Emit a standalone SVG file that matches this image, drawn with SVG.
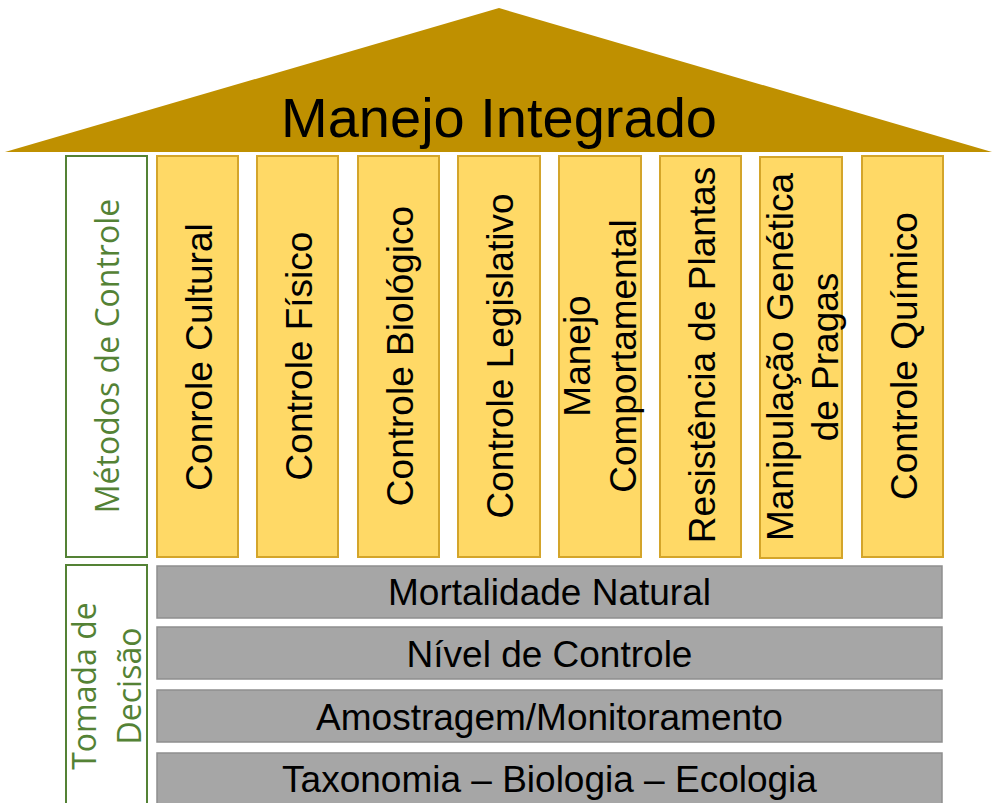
<svg xmlns="http://www.w3.org/2000/svg" width="996" height="803" viewBox="0 0 996 803">
<style>
.col{fill:#FFD966;stroke:#D4A52A;stroke-width:2}
.bar{fill:#A6A6A6;stroke:#8E8E8E;stroke-width:1.5}
.lbl{fill:#FFFFFF;stroke:#548235;stroke-width:2}
.t{font-family:"Liberation Sans",Arial,sans-serif;font-size:37px;fill:#000;text-anchor:middle}
.g{font-family:"Open Sans","Noto Sans",sans-serif;font-size:32px;fill:#548235;text-anchor:middle}
</style>
<rect width="996" height="803" fill="#FFFFFF"/>
<g id="roof">
<polygon points="499,8 992,152 5,152" fill="#BF9000"/>
<text x="499" y="137" font-family="Liberation Sans, Arial, sans-serif" font-size="56" text-anchor="middle" fill="#000">Manejo Integrado</text>
</g>
<g id="metodos-label">
<rect class="lbl" x="66" y="156" width="81" height="401"/>
<text class="g" transform="translate(106.5,356) rotate(-90)" y="12">Métodos de Controle</text>
</g>
<g id="col-cultural">
<rect class="col" x="157" y="156" width="81" height="401"/>
<text class="t" transform="translate(197.5,357) rotate(-90)" y="14">Conrole Cultural</text>
</g>
<g id="col-fisico">
<rect class="col" x="257" y="156" width="81" height="401"/>
<text class="t" transform="translate(298,356) rotate(-90)" y="14">Controle Físico</text>
</g>
<g id="col-biologico">
<rect class="col" x="358" y="156" width="81" height="401"/>
<text class="t" transform="translate(398.5,356) rotate(-90)" y="14">Controle Biológico</text>
</g>
<g id="col-legislativo">
<rect class="col" x="458" y="156" width="82" height="401"/>
<text class="t" transform="translate(499,356) rotate(-90)" y="14">Controle Legislativo</text>
</g>
<g id="col-comportamental">
<rect class="col" x="559" y="156" width="82" height="401"/>
<text class="t" transform="translate(600,356) rotate(-90)"><tspan x="0" y="-10">Manejo</tspan><tspan x="0" y="36">Comportamental</tspan></text>
</g>
<g id="col-resistencia">
<rect class="col" x="660" y="156" width="81" height="401"/>
<text class="t" transform="translate(701,355) rotate(-90)" y="14">Resistência de Plantas</text>
</g>
<g id="col-manipulacao">
<rect class="col" x="760" y="157" width="82" height="401"/>
<text class="t" transform="translate(801,357) rotate(-90)"><tspan x="0" y="-8">Manipulação Genética</tspan><tspan x="0" y="37">de Pragas</tspan></text>
</g>
<g id="col-quimico">
<rect class="col" x="862" y="156" width="81" height="401"/>
<text class="t" transform="translate(902.5,356) rotate(-90)" y="14">Controle Químico</text>
</g>
<g id="decisao-label">
<rect class="lbl" x="66" y="565" width="81" height="260"/>
<text class="g" transform="translate(106.5,686) rotate(-90)"><tspan x="0" y="-10.5">Tomada de</tspan><tspan x="0" y="34.5">Decisão</tspan></text>
</g>
<g id="bar-mortalidade">
<rect class="bar" x="157" y="566" width="785" height="52"/>
<text class="t" x="549.5" y="605">Mortalidade Natural</text>
</g>
<g id="bar-nivel">
<rect class="bar" x="157" y="627" width="785" height="52"/>
<text class="t" x="549.5" y="667">Nível de Controle</text>
</g>
<g id="bar-amostragem">
<rect class="bar" x="157" y="690" width="785" height="52"/>
<text class="t" x="549.5" y="730">Amostragem/Monitoramento</text>
</g>
<g id="bar-taxonomia">
<rect class="bar" x="157" y="753" width="785" height="70"/>
<text class="t" x="549.5" y="792">Taxonomia – Biologia – Ecologia</text>
</g>
<g id="connectors"></g>
</svg>
